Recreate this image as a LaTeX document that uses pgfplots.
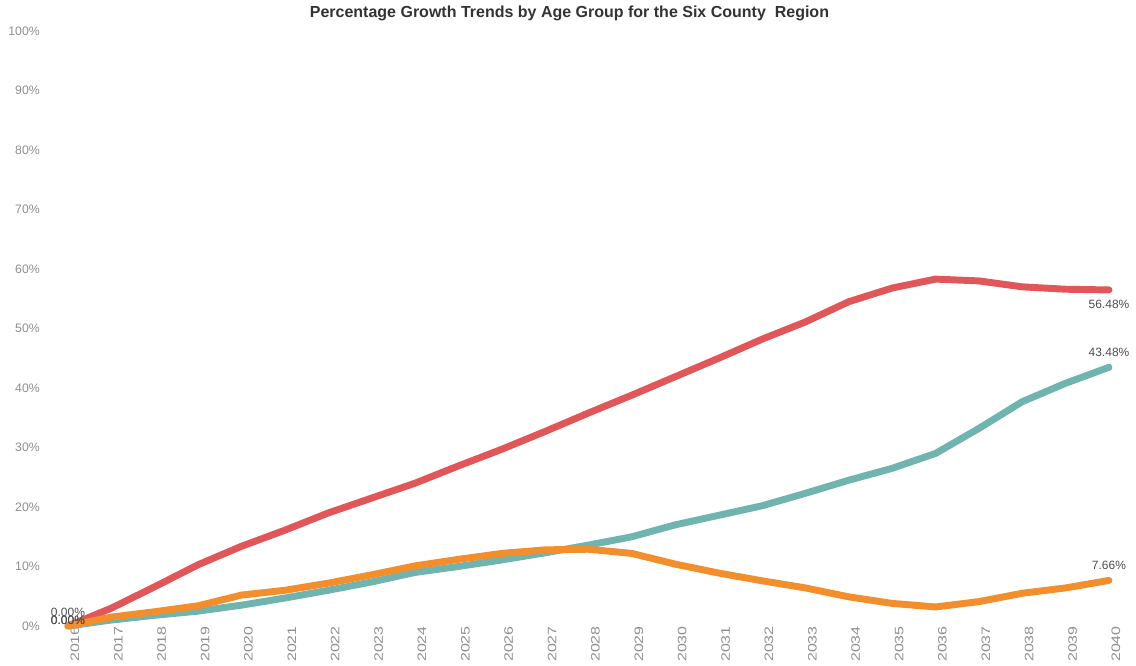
\documentclass[border=0pt]{standalone}
\usepackage{graphicx}
\usepackage{pgfplots}
\pgfplotsset{compat=1.18}
\usepackage{pgfplotstable}
\usepackage{fontspec}
\setmainfont{Liberation Sans}

\definecolor{cRed}{HTML}{E15759}
\definecolor{cTeal}{HTML}{6FB4AE}
\definecolor{cOrange}{HTML}{F28E2B}
\definecolor{tickgray}{HTML}{8E8E8E}
\definecolor{labelgray}{HTML}{4D4D4D}
\definecolor{titlegray}{HTML}{333333}

% Cumulative growth since 2016, in percent
\pgfplotstableread{
year  red    teal   orange
2016  0      0      0
2017  3.0    1.0    1.5
2018  6.6    1.8    2.4
2019  10.3   2.5    3.4
2020  13.4   3.5    5.2
2021  16.1   4.7    6.0
2022  19.0   6.0    7.2
2023  21.5   7.4    8.6
2024  24.0   9.0    10.1
2025  26.9   10.0   11.2
2026  29.7   11.1   12.2
2027  32.7   12.3   12.8
2028  35.8   13.6   12.9
2029  38.8   15.0   12.2
2030  41.9   17.0   10.4
2031  45.0   18.6   8.9
2032  48.2   20.2   7.6
2033  51.1   22.3   6.4
2034  54.5   24.5   4.9
2035  56.8   26.5   3.8
2036  58.3   29.0   3.2
2037  58.0   33.2   4.1
2038  57.0   37.7   5.5
2039  56.6   40.8   6.4
2040  56.48  43.48  7.66
}\growth

\begin{document}
\begin{tikzpicture}
\useasboundingbox (0,0) rectangle (852pt,498.75pt);
\begin{axis}[
  at={(51pt,29.25pt)}, anchor=south west,
  scale only axis,
  width=780.75pt, height=446.25pt,
  xmin=2016, xmax=2040,
  ymin=0, ymax=100,
  clip=false,
  axis line style={draw=none},
  major tick length=0pt,
  xtick={2016,...,2040},
  ytick={0,10,...,100},
  /pgf/number format/assume math mode=true,
  xticklabel={\scalebox{1.3}[1]{\pgfmathprintnumber[1000 sep={}]{\tick}}},
  yticklabel={\pgfmathprintnumber{\tick}\%},
  tick label style={font=\fontsize{9.2}{11}\selectfont, text=tickgray, inner sep=0pt},
  xticklabel style={rotate=90, anchor=east, yshift=-5.25pt},
  yticklabel style={anchor=east, xshift=-21pt},
  every axis title shift=0pt,
  title={\textbf{Percentage Growth Trends by Age Group for the Six County\ \ Region}},
  title style={at={(axis description cs:0.4817,1.0303)}, anchor=center,
    font=\fontsize{12}{14}\selectfont, text=titlegray, inner sep=0pt},
  every axis plot/.append style={line width=5.2pt, line join=round, line cap=round},
]
\addplot[cTeal]   table[x=year, y=teal]   {\growth};
\addplot[cRed]    table[x=year, y=red]    {\growth};
\addplot[cOrange] table[x=year, y=orange] {\growth};

\begin{scope}[every node/.style={font=\fontsize{9}{11}\selectfont, text=labelgray, inner sep=0pt}]
  \node at (axis cs:2016,0) [yshift=10.5pt] {0.00\%};
  \node at (axis cs:2016,0) [yshift=4.5pt] {0.00\%};
  \node at (axis cs:2016,0) [yshift=4.5pt] {0.00\%};
  \node at (axis cs:2040,56.48) [yshift=-10.5pt] {56.48\%};
  \node at (axis cs:2040,43.48) [yshift=11.25pt] {43.48\%};
  \node at (axis cs:2040,7.66) [yshift=11.25pt] {7.66\%};
\end{scope}
\end{axis}
\end{tikzpicture}
\end{document}
